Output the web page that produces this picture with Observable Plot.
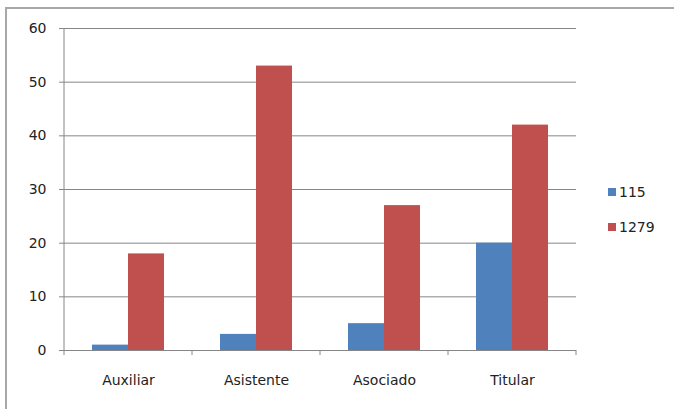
<!DOCTYPE html>
<html><head><meta charset="utf-8">
<script src="https://cdn.jsdelivr.net/npm/d3@7"></script>
<script src="https://cdn.jsdelivr.net/npm/@observablehq/plot@0.6"></script>
<style>
body{margin:0;background:#fff;font-family:"DejaVu Sans",sans-serif}
#wrap{position:relative;width:674px;height:409px;overflow:hidden;background:#fff}
#border{position:absolute;left:5px;top:7px;width:700px;height:440px;border-top:2px solid #a8a8a8;border-left:2px solid #a8a8a8;pointer-events:none}
#chart{position:absolute;left:0;top:0}
#legend{position:absolute;left:608px;top:184px;font-size:14px;color:#222;line-height:16px}
.row{display:flex;align-items:center;height:16px}
.row + .row{margin-top:19px}
.sw{width:8px;height:8px;margin-right:3px}
</style></head>
<body>
<div id="wrap"><div id="chart"></div><div id="border"></div><div id="legend"></div></div>
<script>
const categories = ["Auxiliar","Asistente","Asociado","Titular"];
const series = ["115","1279"];
const values115 = [1,3,5,20];
const values1279 = [18,53,27,42];
const yTicks = [0,10,20,30,40,50,60];
const colors = ["#4f81bd","#c0504d"];

const data = categories.flatMap((c,i)=>[
  {cat:c, s:series[0], v:values115[i]},
  {cat:c, s:series[1], v:values1279[i]}
]);

const chart = Plot.plot({
  width:674, height:409,
  marginLeft:62, marginRight:97, marginTop:28, marginBottom:59,
  style:{fontFamily:'"DejaVu Sans", sans-serif', fontSize:"14px", color:"#222", background:"transparent"},
  fx:{domain:categories, padding:0, label:null, axis:"bottom", tickSize:0, tickPadding:25},
  x:{domain:series, paddingInner:0, paddingOuter:0.74, axis:null},
  y:{domain:[0,60], ticks:yTicks, label:null, axis:null},
  color:{domain:series, range:colors},
  marks:[
    Plot.gridY(yTicks, {stroke:"#868686", strokeOpacity:1}),
    Plot.axisY(yTicks, {tickSize:5, tickPadding:13, stroke:"#868686", label:null}),
    Plot.barY(data, {fx:"cat", x:"s", y:"v", fill:"s"}),
    Plot.ruleY([0], {stroke:"#868686"})
  ]
});

const svg = d3.select(chart);
const fx = chart.scale("fx"), y = chart.scale("y");
const y0 = y.apply(0), yTop = y.apply(60);
const bounds = categories.map(c => fx.apply(c));
bounds.push(fx.apply(categories[categories.length-1]) + fx.bandwidth);
const g = svg.append("g").attr("stroke","#868686");
g.append("line").attr("x1",bounds[0]).attr("x2",bounds[0]).attr("y1",yTop).attr("y2",y0);
bounds.forEach(b => g.append("line").attr("x1",b).attr("x2",b).attr("y1",y0).attr("y2",y0+5));

document.getElementById("chart").append(chart);

const legend = d3.select("#legend");
series.forEach((s,i) => {
  const r = legend.append("div").attr("class","row");
  r.append("div").attr("class","sw").style("background",colors[i]);
  r.append("span").text(s);
});
</script>
</body></html>
